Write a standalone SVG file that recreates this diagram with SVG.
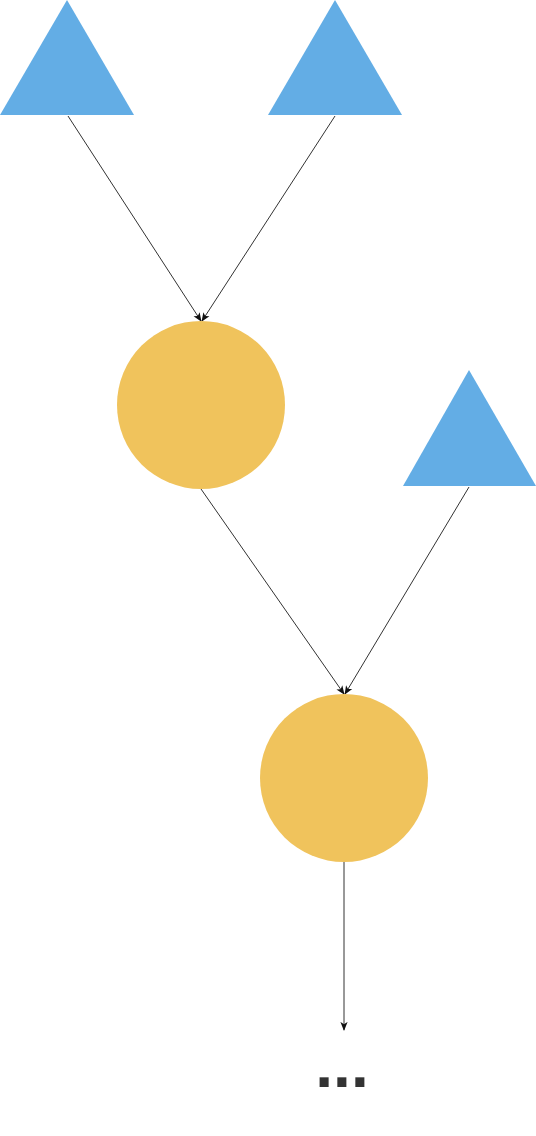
<svg xmlns="http://www.w3.org/2000/svg" width="536" height="1136" viewBox="0 0 536 1136">
<defs>
<style>
.tri{fill:#63ade5;}
.circ{fill:#f0c35c;}
.edge{stroke:#333;stroke-width:1;fill:none;marker-end:url(#arr);}
.dots{font-family:"Liberation Sans",Arial,sans-serif;font-weight:bold;font-size:64px;fill:#333;}
</style>
<marker id="arr" viewBox="0 0 10 10" refX="9" refY="5" markerWidth="9" markerHeight="9" markerUnits="userSpaceOnUse" orient="auto">
<path d="M0,1 L10,5 L0,9 L2.5,5 Z" fill="#111"/>
</marker>
</defs>
<g id="connectors">
<line class="edge" x1="68" y1="116" x2="201" y2="321"/>
<line class="edge" x1="335" y1="116" x2="202" y2="321"/>
<line class="edge" x1="201" y1="489" x2="344" y2="694"/>
<line class="edge" x1="469" y1="487" x2="345" y2="694"/>
<line class="edge" x1="344" y1="862" x2="344" y2="1030"/>
</g>
<g id="tri1"><polygon class="tri" points="67,0 134,115 0,115"/></g>
<g id="tri2"><polygon class="tri" points="335,0 402,115 268,115"/></g>
<g id="tri3"><polygon class="tri" points="469,370 536,486 403,486"/></g>
<g id="circle1"><circle class="circ" cx="201" cy="405" r="84"/></g>
<g id="circle2"><circle class="circ" cx="344" cy="778" r="84"/></g>
<g id="ellipsis"><text class="dots" x="342" y="1087" text-anchor="middle">...</text></g>
</svg>
